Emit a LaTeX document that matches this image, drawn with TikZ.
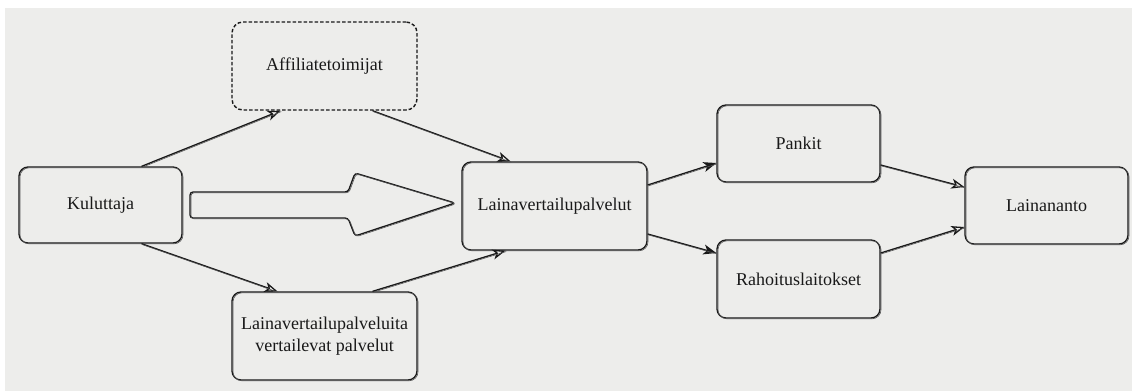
\documentclass[tikz,border=0pt]{standalone}
\usepackage{fontspec}
\setmainfont{Liberation Serif}
\usetikzlibrary{arrows.meta,calc}

\definecolor{paper}{RGB}{237,237,235}
\definecolor{ink}{RGB}{25,25,25}
\definecolor{inksoft}{RGB}{85,85,85}

\tikzset{
  x=1pt, y=-1pt,
  every node/.style={font=\fontsize{18}{22}\selectfont, text=ink, align=center},
  sketchbox/.style={draw=ink, line width=1.3pt, rounded corners=9pt,
    inner sep=0pt,
    postaction={draw=inksoft, line width=0.6pt,
      transform canvas={shift={(1pt,-0.8pt)}}}},
  dashbox/.style={draw=ink, line width=1.4pt, rounded corners=11pt,
    dash pattern=on 3.5pt off 2pt, inner sep=0pt},
  flow/.style={draw=ink, line width=1.3pt,
    -{Stealth[open, length=13pt, width=10pt, inset=3.5pt]},
    postaction={draw=inksoft, -, line width=0.6pt,
      transform canvas={shift={(0.7pt,-0.9pt)}}}},
  flowfilled/.style={draw=ink, line width=1.3pt,
    -{Stealth[length=13pt, width=10pt, inset=3.5pt]},
    postaction={draw=inksoft, -, line width=0.6pt,
      transform canvas={shift={(0.7pt,-0.9pt)}}}},
}

\begin{document}
\begin{tikzpicture}
  % canvas
  \fill[white] (0,0) rectangle (1132,391);
  \fill[paper] (5,8) rectangle (1132,391);
  \useasboundingbox (0,0) rectangle (1132,391);

  % boxes
  \node[dashbox, minimum width=185pt, minimum height=88pt] (aff) at (324.5,66) {Affiliatetoimijat};
  \node[sketchbox, minimum width=163pt, minimum height=76pt] (kul) at (100.5,205) {Kuluttaja};
  \node[sketchbox, minimum width=185pt, minimum height=88pt] (lvv) at (324.5,336) {Lainavertailupalveluita\\vertailevat palvelut};
  \node[sketchbox, minimum width=185pt, minimum height=88pt] (lv) at (554.5,206) {Lainavertailupalvelut};
  \node[sketchbox, minimum width=163pt, minimum height=77pt] (pan) at (798.5,143.5) {Pankit};
  \node[sketchbox, minimum width=163pt, minimum height=78pt] (rah) at (798.5,279) {Rahoituslaitokset};
  \node[sketchbox, minimum width=163pt, minimum height=77pt] (lai) at (1046.5,205.5) {Lainananto};

  % block arrow between the consumer and the comparison services
  \draw[ink, line width=1.3pt, rounded corners=3pt,
        postaction={draw=inksoft, line width=0.6pt,
          transform canvas={shift={(1pt,-0.8pt)}}}]
    (190,192) -- (348,192) -- (355,173) -- (455,203) -- (355,236)
    -- (348,218) -- (190,218) -- cycle;

  % connectors
  \draw[flow] ($(kul.north)+(41,0)$) -- ($(aff.south)+(-44,0)$);
  \draw[flow] ($(aff.south)+(48,0)$) -- ($(lv.north)+(-44,0)$);
  \draw[flow] ($(kul.south)+(41,0)$) -- ($(lvv.north)+(-47,0)$);
  \draw[flow] ($(lvv.north)+(48,0)$) -- ($(lv.south)+(-49,0)$);
  \draw[flowfilled] ($(lv.east)+(0,-21)$) -- ($(pan.west)+(0,19.5)$);
  \draw[flowfilled] ($(lv.east)+(0,28)$) -- ($(rah.west)+(0,-26)$);
  \draw[flow] ($(pan.east)+(0,21.5)$) -- ($(lai.west)+(0,-18.5)$);
  \draw[flow] ($(rah.east)+(0,-26)$) -- ($(lai.west)+(0,21.5)$);
\end{tikzpicture}
\end{document}
